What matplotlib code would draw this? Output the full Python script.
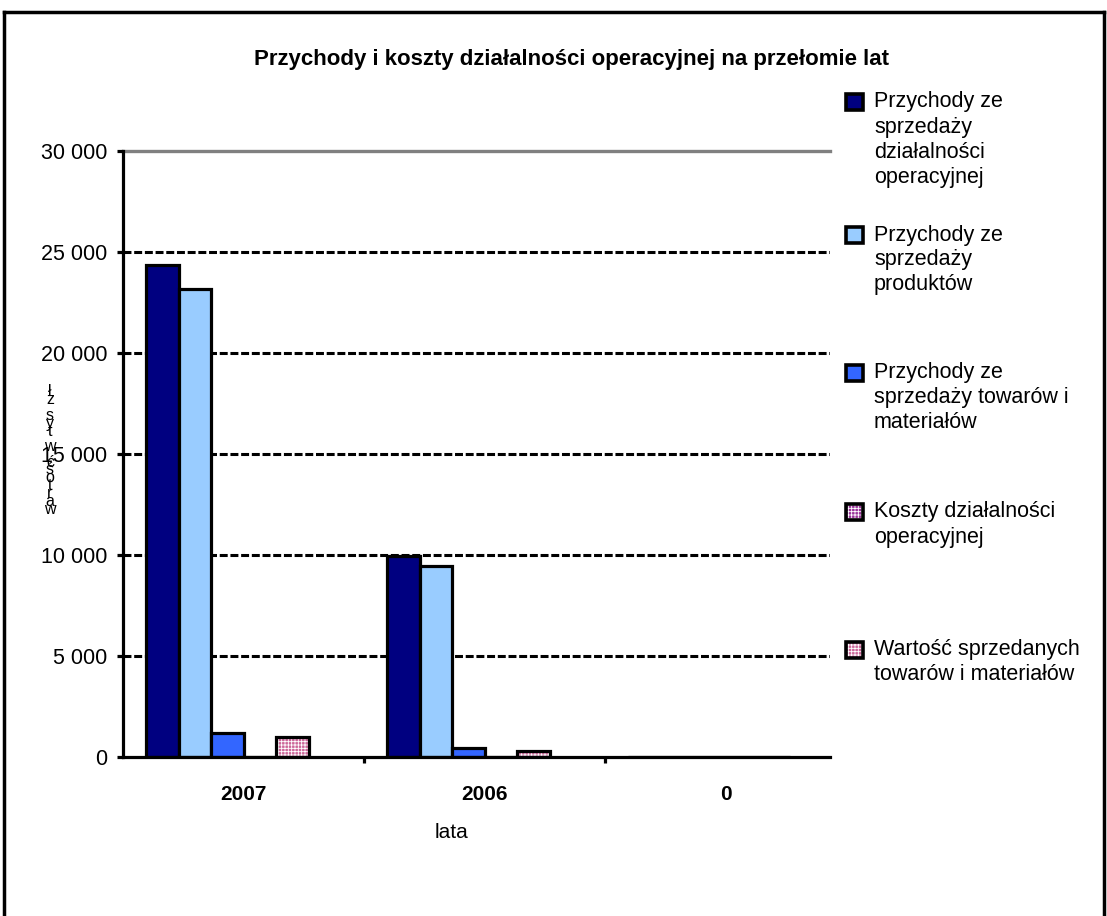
import matplotlib
matplotlib.use("Agg")
import matplotlib.pyplot as plt
import numpy as np
from matplotlib.patches import Rectangle
from matplotlib.lines import Line2D

plt.rcParams['font.family'] = ['Liberation Sans', 'DejaVu Sans']

# ---- data ----
categories = ["2007", "2006", "0"]
series_names = [
    "Przychody ze\nsprzedaży\ndziałalności\noperacyjnej",
    "Przychody ze\nsprzedaży\nproduktów",
    "Przychody ze\nsprzedaży towarów i\nmateriałów",
    "Koszty działalności\noperacyjnej",
    "Wartość sprzedanych\ntowarów i materiałów",
]
przychody_dzialalnosci = [24350, 9950, 0]
przychody_produktow = [23150, 9450, 0]
przychody_towarow = [1200, 450, 0]
koszty_dzialalnosci = [0, 0, 0]
wartosc_sprzedanych = [1000, 300, 0]
series_values = [przychody_dzialalnosci, przychody_produktow, przychody_towarow,
                 koszty_dzialalnosci, wartosc_sprzedanych]
yticks = [0, 5000, 10000, 15000, 20000, 25000, 30000]
ytick_labels = ["0", "5 000", "10 000", "15 000", "20 000", "25 000", "30 000"]
y_label = "wartość w tys zł"
x_label = "lata"
title = "Przychody i koszty działalności operacyjnej na przełomie lat"

# ---- style ----
face_colors = ["#000080", "#99ccff", "#3366ff", "#993399", "#cc6699"]
hatches = [None, None, None, "+++++", "+++++"]

W, H = 1107, 916
fig = plt.figure(figsize=(W / 100, H / 100), dpi=100)

def fx(px):
    return px / W

def fy(py):
    return 1 - py / H

ax_left, ax_right, ax_top, ax_bottom = 123, 830, 151, 757
ax = fig.add_axes([fx(ax_left), fy(ax_bottom), fx(ax_right - ax_left), (ax_bottom - ax_top) / H])

cat_px = 241.0
xmax = (ax_right - ax_left) / cat_px - 0.5
ax.set_xlim(-0.5, xmax)
ax.set_ylim(0, 30000)

n_slots = 6
bw = 32.5 / cat_px
x = np.arange(len(categories))
plt.rcParams['hatch.linewidth'] = 0.6
for i, (vals, fc, h) in enumerate(zip(series_values, face_colors, hatches)):
    off = (i - (n_slots - 1) / 2) * bw
    if h:
        ax.bar(x + off, vals, width=bw, color=fc, edgecolor="white", hatch=h, linewidth=0, zorder=3)
        ax.bar(x + off, vals, width=bw, fill=False, edgecolor="black", linewidth=2.3, zorder=4)
    else:
        ax.bar(x + off, vals, width=bw, color=fc, edgecolor="black", linewidth=2.3, zorder=3)

# grid
for yv in yticks[1:-1]:
    ax.axhline(yv, color="black", lw=2.2, ls=(0, (2.6, 0.9)), zorder=1)
ax.axhline(30000, color="#808080", lw=2.4, zorder=1, clip_on=False)

for s in ["top", "right"]:
    ax.spines[s].set_visible(False)
for s in ["left", "bottom"]:
    ax.spines[s].set_linewidth(2.3)
    ax.spines[s].set_color("black")
    ax.spines[s].set_zorder(5)

ax.set_yticks(yticks)
ax.set_yticklabels(ytick_labels, fontsize=15.5)
ax.tick_params(axis="y", direction="out", length=4.5, width=2.3, pad=7)

ax.set_xticks(x)
ax.set_xticklabels(categories, fontsize=15, fontweight="bold")
ax.tick_params(axis="x", which="major", length=0, pad=20)
ax.set_xticks(np.arange(0.5, len(categories) - 1, 1.0), minor=True)
ax.tick_params(axis="x", which="minor", direction="out", length=4, width=2.3)

# x label
fig.text(fx(452), fy(833), x_label, fontsize=15, ha="center", va="center")

# stacked vertical y label (characters reversed, stacked top to bottom)
chars = list(y_label)[::-1]
y0 = 392
for k, ch in enumerate(chars):
    fig.text(fx(50), fy(y0 + k * 7.8), ch, fontsize=11.5, ha="center", va="center")

# title
fig.text(fx(572), fy(60), title, fontsize=16, fontweight="bold", ha="center", va="center")

# legend (manual)
legend_y = [102, 235, 373, 512, 650]
for name, fc, h, ly in zip(series_names, face_colors, hatches, legend_y):
    if h:
        fig.add_artist(Rectangle((fx(846), fy(ly + 8)), fx(17), 16 / H, transform=fig.transFigure,
                                 facecolor=fc, edgecolor="white", linewidth=0, hatch=h))
        fig.add_artist(Rectangle((fx(846), fy(ly + 8)), fx(17), 16 / H, transform=fig.transFigure,
                                 fill=False, edgecolor="black", linewidth=2.6))
    else:
        fig.add_artist(Rectangle((fx(846), fy(ly + 8)), fx(17), 16 / H, transform=fig.transFigure,
                                 facecolor=fc, edgecolor="black", linewidth=2.6))
    for j, line in enumerate(name.split("\n")):
        fig.text(fx(874), fy(ly + j * 25), line, fontsize=15.5, ha="left", va="center")

# chart frame
fig.add_artist(Line2D([fx(4), fx(4)], [fy(12), 0], transform=fig.transFigure, color="black", lw=2.5))
fig.add_artist(Line2D([fx(4), fx(1104)], [fy(12), fy(12)], transform=fig.transFigure, color="black", lw=2.5))
fig.add_artist(Line2D([fx(1104), fx(1104)], [fy(12), 0], transform=fig.transFigure, color="black", lw=2.5))

fig.savefig("out.png", dpi=100, facecolor="white")
